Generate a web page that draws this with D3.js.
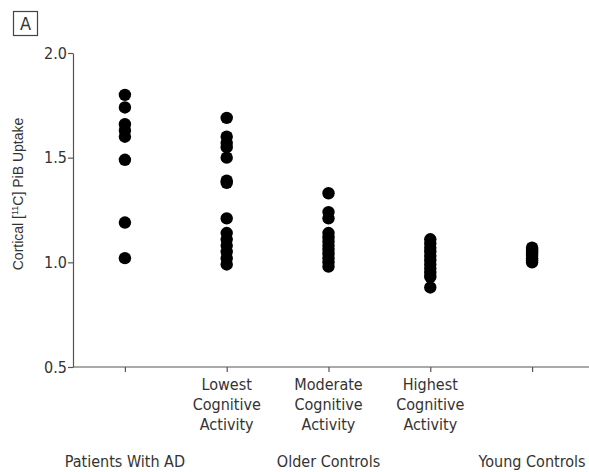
<!DOCTYPE html>
<html><head><meta charset="utf-8">
<script src="https://cdn.jsdelivr.net/npm/d3@7"></script>
<style>
body{margin:0;background:#fff;}
svg{display:block;}
.narrow{font-family:"Liberation Sans Narrow","DejaVu Sans Condensed",sans-serif;font-stretch:condensed;}
</style>
</head><body>
<svg id="chart" width="589" height="472"></svg>
<script>
const categories = ["Patients With AD", "Lowest", "Moderate", "Highest", "Young Controls"];
const tickLabels = [[], ["Lowest", "Cognitive", "Activity"], ["Moderate", "Cognitive", "Activity"], ["Highest", "Cognitive", "Activity"], []];
const groupLabels = ["Patients With AD", "Older Controls", "Young Controls"];
const groupAt = ["Patients With AD", "Moderate", "Young Controls"];
const yTicks = [0.5, 1.0, 1.5, 2.0];

const adValues = [1.80, 1.74, 1.66, 1.63, 1.60, 1.49, 1.19, 1.02];
const lowestValues = [1.69, 1.60, 1.57, 1.55, 1.50, 1.39, 1.38, 1.21, 1.14, 1.11, 1.08, 1.05, 1.02, 0.99];
const moderateValues = [1.33, 1.24, 1.21, 1.14, 1.12, 1.10, 1.08, 1.06, 1.04, 1.02, 1.00, 0.98];
const highestValues = [1.11, 1.09, 1.07, 1.05, 1.03, 1.01, 0.99, 0.97, 0.95, 0.93, 0.88];
const youngValues = [1.07, 1.06, 1.05, 1.04, 1.03, 1.02, 1.01, 1.00];
const seriesValues = [adValues, lowestValues, moderateValues, highestValues, youngValues];

const svg = d3.select("#chart");
const W = 589, mLeft = 73, mTop = 53, mBottom = 367;

const x = d3.scalePoint().domain(categories).range([mLeft, 584]).padding(0.51);
const y = d3.scaleLinear().domain([0.5, 2.0]).range([mBottom, mTop]);

const axisColor = "#555";
const textColor = "#333";

// Y axis
const yAxis = svg.append("g").attr("transform", `translate(${mLeft},0)`)
  .call(d3.axisLeft(y).tickValues(yTicks).tickFormat(d3.format(".1f")).tickSize(5).tickSizeOuter(0));
yAxis.select(".domain").attr("stroke", axisColor).attr("stroke-width", 1.2);
yAxis.selectAll(".tick line").attr("stroke", axisColor).attr("stroke-width", 1.2);
yAxis.selectAll(".tick text").attr("class", "narrow").attr("font-size", 16).attr("fill", textColor).attr("x", -6);

// X axis
const xAxis = svg.append("g").attr("transform", `translate(0,${mBottom})`)
  .call(d3.axisBottom(x).tickSize(5).tickSizeOuter(0).tickFormat(""));
xAxis.select(".domain").attr("d", `M${mLeft},0H${W}`).attr("stroke", axisColor).attr("stroke-width", 1.2);
xAxis.selectAll(".tick line").attr("stroke", axisColor).attr("stroke-width", 1.2);

// multi-line tick labels
const tl = svg.append("g").attr("class", "narrow").attr("font-size", 16).attr("fill", textColor).attr("text-anchor", "middle");
categories.forEach((c, i) => {
  tickLabels[i].forEach((line, j) => {
    tl.append("text").attr("x", x(c)).attr("y", mBottom + 23 + j * 20).text(line);
  });
});
// group labels
groupLabels.forEach((g, i) => {
  tl.append("text").attr("x", x(groupAt[i])).attr("y", mBottom + 100).text(g);
});

// points
const pts = svg.append("g");
categories.forEach((c, i) => {
  pts.selectAll(null).data(seriesValues[i]).enter().append("circle")
    .attr("cx", x(c)).attr("cy", d => y(d)).attr("r", 6.2).attr("fill", "#000");
});

// Y label
const yl = svg.append("text")
  .attr("transform", `translate(23,${(mTop + mBottom) / 2 - 16}) rotate(-90)`)
  .attr("text-anchor", "middle")
  .attr("font-family", "'Liberation Sans', Arial, sans-serif")
  .attr("font-size", 14).attr("fill", textColor);
yl.append("tspan").text("Cortical [");
yl.append("tspan").attr("font-size", 9).attr("dy", -5).text("11");
yl.append("tspan").attr("dy", 5).text("C] PiB Uptake");

// Panel label
svg.append("rect").attr("x", 13.5).attr("y", 11.5).attr("width", 24).attr("height", 24)
  .attr("fill", "none").attr("stroke", "#444").attr("stroke-width", 1.2);
svg.append("text").attr("class", "narrow").attr("x", 25.5).attr("y", 30).attr("text-anchor", "middle")
  .attr("font-size", 18).attr("fill", textColor).text("A");
</script>
</body></html>
